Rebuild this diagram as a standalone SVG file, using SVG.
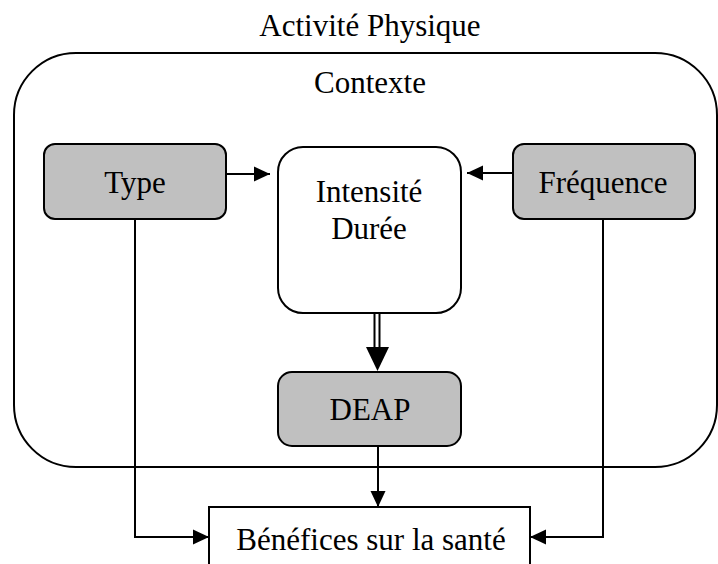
<svg xmlns="http://www.w3.org/2000/svg" width="718" height="564" viewBox="0 0 718 564">
<style>
.t{font-family:'Liberation Serif','Times New Roman',Times,serif;font-size:31px;fill:#000;text-anchor:middle}
.box{stroke:#000;stroke-width:2;fill:#fff}
.gray{fill:#c0c0c0}
.ln{stroke:#000;stroke-width:2;fill:none}
</style>
<defs>
<marker id="ah" viewBox="0 0 16 16" refX="16" refY="8" markerWidth="16" markerHeight="16" markerUnits="userSpaceOnUse" orient="auto">
<path d="M0,0.5 L16,8 L0,15.5 Z" fill="#000"/>
</marker>
</defs>
<rect width="718" height="564" fill="#fff"/>
<text class="t" font-family="Liberation Serif" x="370" y="36">Activité Physique</text>
<g id="contexte">
<rect class="box" x="14" y="53" width="703" height="414" rx="62" ry="62" fill="none"/>
<text class="t" font-family="Liberation Serif" x="370" y="93">Contexte</text>
</g>
<g id="type">
<rect class="box gray" x="44" y="144" width="182" height="75" rx="11"/>
<text class="t" font-family="Liberation Serif" x="135" y="193">Type</text>
</g>
<g id="intensite">
<rect class="box" x="278" y="147" width="183" height="166" rx="25"/>
<text class="t" font-family="Liberation Serif" x="369" y="202">Intensité</text>
<text class="t" font-family="Liberation Serif" x="369" y="239">Durée</text>
</g>
<g id="frequence">
<rect class="box gray" x="513" y="144" width="182" height="75" rx="11"/>
<text class="t" font-family="Liberation Serif" x="603" y="193">Fréquence</text>
</g>
<g id="deap">
<rect class="box gray" x="278" y="372" width="183" height="74" rx="14"/>
<text class="t" font-family="Liberation Serif" x="370" y="420">DEAP</text>
</g>
<g id="benefices">
<rect class="box" x="209" y="507" width="321" height="70"/>
<text class="t" font-family="Liberation Serif" x="371" y="550">Bénéfices sur la santé</text>
</g>
<g id="connectors">
<path class="ln" d="M226,174 H270" marker-end="url(#ah)"/>
<path class="ln" d="M513,173 H467" marker-end="url(#ah)"/>
<path class="ln" d="M374.5,313 V350 M379.5,313 V350"/>
<path d="M366,347 L389,347 L377.5,371 Z" fill="#000"/>
<path class="ln" d="M378,446 V507" marker-end="url(#ah)"/>
<path class="ln" d="M135,219 V537 H209" marker-end="url(#ah)"/>
<path class="ln" d="M603,219 V537 H530" marker-end="url(#ah)"/>
</g>
</svg>
